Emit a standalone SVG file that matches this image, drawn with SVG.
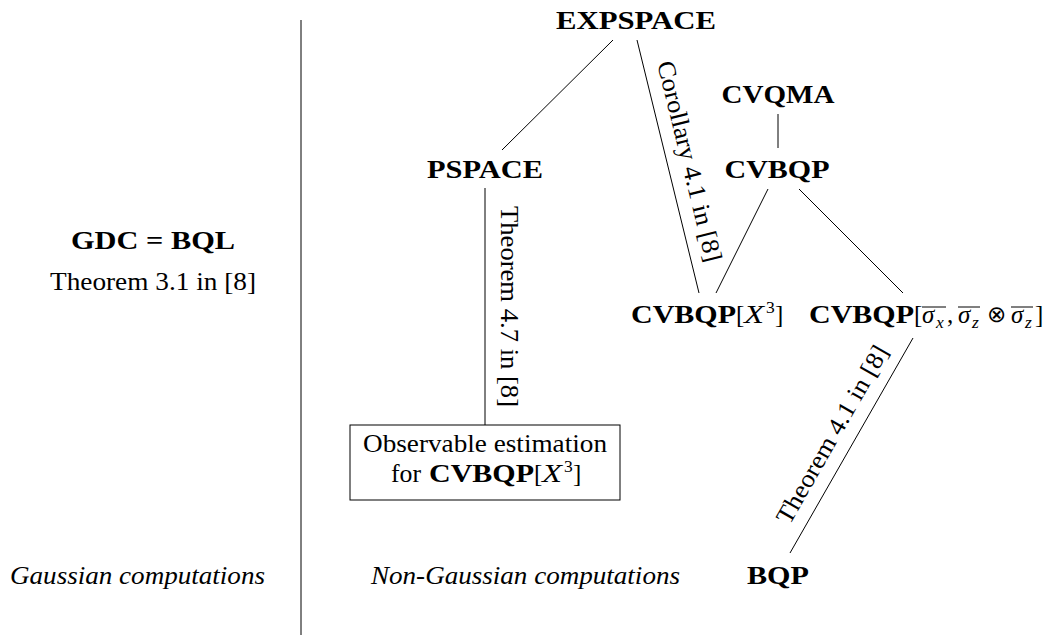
<svg xmlns="http://www.w3.org/2000/svg" width="1048" height="642" viewBox="0 0 1048 642">
<style>
text{font-family:"Liberation Serif","Times New Roman",serif;font-size:25px;fill:#000}
.b{font-weight:bold}
.i{font-style:italic}
.s{font-size:17.5px}
.c{text-anchor:middle}
.e{stroke:#000;stroke-width:1;fill:none}
.o{stroke:#000;stroke-width:1;fill:none}
</style>
<rect width="1048" height="642" fill="#fff"/>
<g id="connectors">
<line class="e" x1="301" y1="20" x2="301" y2="635"/>
<line class="e" x1="613" y1="40" x2="502" y2="150"/>
<line class="e" x1="637" y1="40" x2="699" y2="293"/>
<line class="e" x1="778" y1="114" x2="778" y2="148"/>
<line class="e" x1="768" y1="189" x2="716" y2="293"/>
<line class="e" x1="799" y1="189" x2="903" y2="293"/>
<line class="e" x1="485" y1="188" x2="485" y2="425"/>
<line class="e" x1="913" y1="338" x2="790" y2="553"/>
<g transform="translate(668,166.5) rotate(76.23)"><text class="c" x="0" y="-14" textLength="206" lengthAdjust="spacingAndGlyphs">Corollary 4.1 in [8]</text></g>
<g transform="translate(485,306.5) rotate(90)"><text class="c" x="0" y="-16" textLength="201" lengthAdjust="spacingAndGlyphs">Theorem 4.7 in [8]</text></g>
<g transform="translate(851.5,445.5) rotate(-60.22)"><text class="c" x="0" y="-14" textLength="201" lengthAdjust="spacingAndGlyphs">Theorem 4.1 in [8]</text></g>
</g>
<g id="divider-labels">
<text class="i" x="10" y="584" textLength="255" lengthAdjust="spacingAndGlyphs">Gaussian computations</text>
<text class="i" x="371" y="584" textLength="309" lengthAdjust="spacingAndGlyphs">Non-Gaussian computations</text>
</g>
<g id="gdc">
<text class="b c" x="153" y="249" textLength="164" lengthAdjust="spacingAndGlyphs">GDC = BQL</text>
<text class="c" x="153" y="290" textLength="206" lengthAdjust="spacingAndGlyphs">Theorem 3.1 in [8]</text>
</g>
<g id="expspace"><text class="b c" x="636" y="29" textLength="160" lengthAdjust="spacingAndGlyphs">EXPSPACE</text></g>
<g id="pspace"><text class="b c" x="485" y="178" textLength="116" lengthAdjust="spacingAndGlyphs">PSPACE</text></g>
<g id="cvqma"><text class="b c" x="778" y="103" textLength="113" lengthAdjust="spacingAndGlyphs">CVQMA</text></g>
<g id="cvbqp"><text class="b c" x="777" y="178" textLength="105" lengthAdjust="spacingAndGlyphs">CVBQP</text></g>
<g id="cvbqp-x3">
<text class="b" x="631" y="323" textLength="105" lengthAdjust="spacingAndGlyphs">CVBQP</text>
<text x="736" y="323">[</text>
<text class="i" x="744" y="323" textLength="20" lengthAdjust="spacingAndGlyphs">X</text>
<text class="s" x="766" y="313">3</text>
<text x="775" y="323">]</text>
</g>
<g id="cvbqp-sigma">
<text class="b" x="809" y="323" textLength="105" lengthAdjust="spacingAndGlyphs">CVBQP</text>
<text x="914" y="323">[</text>
<text class="i" x="922" y="323">σ</text>
<text class="i s" x="936" y="328">x</text>
<line class="o" x1="922" y1="307" x2="946" y2="307"/>
<text x="947" y="323">,</text>
<text class="i" x="958" y="323">σ</text>
<text class="i s" x="972" y="328">z</text>
<line class="o" x1="958" y1="307" x2="980" y2="307"/>
<text class="c" x="996" y="322" style="font-family:'DejaVu Sans',sans-serif;font-size:23px;font-weight:300">⊗</text>
<text class="i" x="1011" y="323">σ</text>
<text class="i s" x="1025" y="328">z</text>
<line class="o" x1="1011" y1="307" x2="1033" y2="307"/>
<text x="1035" y="323">]</text>
</g>
<g id="observable">
<rect x="350" y="425" width="270" height="75" fill="none" stroke="#000" stroke-width="1"/>
<text class="c" x="485" y="452" textLength="244" lengthAdjust="spacingAndGlyphs">Observable estimation</text>
<text x="391" y="482" textLength="30" lengthAdjust="spacingAndGlyphs">for</text>
<text class="b" x="429" y="482" textLength="105" lengthAdjust="spacingAndGlyphs">CVBQP</text>
<text x="534" y="482">[</text>
<text class="i" x="542" y="482" textLength="20" lengthAdjust="spacingAndGlyphs">X</text>
<text class="s" x="564" y="472">3</text>
<text x="573" y="482">]</text>
</g>
<g id="bqp"><text class="b c" x="778" y="584" textLength="62" lengthAdjust="spacingAndGlyphs">BQP</text></g>
</svg>
